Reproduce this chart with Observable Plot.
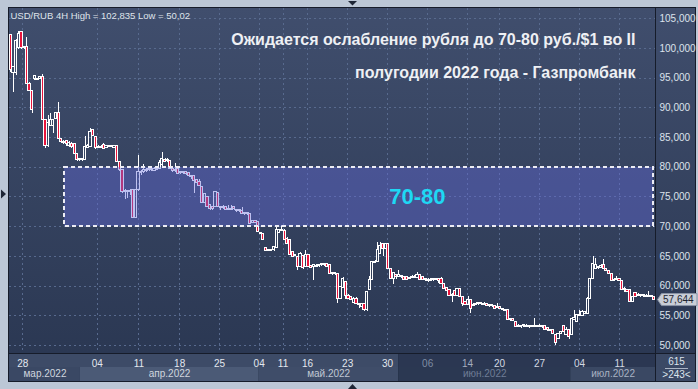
<!DOCTYPE html>
<html><head><meta charset="utf-8">
<script src="https://cdn.jsdelivr.net/npm/d3@7"></script>
<script src="https://cdn.jsdelivr.net/npm/@observablehq/plot@0.6"></script>
<style>
html,body{margin:0;padding:0;background:#bcc7d6;overflow:hidden;}
#chart svg{display:block;}
</style></head><body><div id="chart"></div>
<script>
// USD/RUB 4H candles: [open, high, low, close]
const candles = [
[102.2,102.4,96.0,96.3],[95.8,97.0,92.6,96.9],[95.8,101.5,95.5,101.3],[100.1,102.835,99.8,102.5],[102.7,102.8,99.9,100.0],
[100.1,100.4,99.9,100.2],[100.2,101.9,94.0,94.1],[94.1,94.3,92.7,92.9],[92.9,93.0,89.0,89.6],[94.8,95.4,94.6,95.3],
[94.9,95.0,94.6,94.7],[94.8,95.3,94.7,95.2],[95.2,95.7,87.8,87.9],[87.9,88.0,83.2,83.5],[83.5,88.7,83.4,87.4],
[87.0,89.0,86.8,87.9],[87.0,88.0,85.7,87.9],[88.2,89.3,88.0,89.1],[89.1,90.9,84.7,84.8],[84.8,84.9,84.0,84.3],
[84.3,84.5,83.8,84.2],[84.4,84.5,83.5,83.9],[83.6,84.3,83.4,84.1],[84.0,84.1,83.2,83.4],[83.9,84.0,82.2,82.3],
[82.3,82.4,81.0,81.2],[81.2,81.5,81.0,81.3],[81.3,81.4,81.0,81.2],[81.3,85.2,81.1,83.4],[83.3,83.8,83.1,83.6],
[83.4,86.5,83.3,85.9],[86.2,86.4,85.1,85.3],[85.1,85.2,83.0,83.2],[83.3,83.6,83.1,83.4],[83.4,83.6,83.1,83.3],
[83.8,84.0,83.0,83.1],[83.3,83.6,83.2,83.5],[83.5,83.6,83.3,83.4],[83.4,83.7,83.3,83.5],[83.3,83.7,83.2,83.5],
[83.5,83.6,80.8,80.9],[80.9,81.0,79.3,79.5],[79.5,79.6,75.6,75.8],[75.9,76.2,74.5,76.0],[76.0,76.1,74.8,75.8],
[75.8,76.2,75.3,76.0],[76.1,76.2,71.3,71.5],[71.5,76.3,71.3,76.1],[76.1,82.0,76.0,79.2],[79.0,79.4,78.7,79.2],
[79.2,80.4,79.0,79.6],[79.4,79.8,79.2,79.6],[79.5,79.9,79.3,79.7],[79.6,79.9,79.3,79.5],[79.4,80.0,79.3,79.7],
[79.6,80.2,79.4,79.7],[79.7,81.2,79.6,80.8],[80.4,82.5,80.2,81.4],[81.3,81.4,80.8,80.9],[81.0,81.4,80.8,81.2],
[81.0,81.2,79.6,79.7],[79.7,79.8,79.2,79.4],[79.4,80.6,79.2,79.6],[79.7,79.8,78.8,78.9],[79.0,79.3,78.8,79.1],
[79.1,79.3,78.8,79.0],[79.2,79.3,78.7,78.8],[79.0,79.1,78.4,78.5],[78.6,78.7,77.9,78.3],[78.5,78.6,75.6,77.7],
[77.8,77.9,77.2,77.4],[77.6,78.0,76.8,76.8],[76.6,76.7,74.0,74.0],[74.0,75.6,73.9,75.5],[75.0,75.1,73.2,73.3],
[73.6,73.7,72.8,73.0],[73.3,73.4,72.8,73.0],[73.3,75.9,73.2,75.8],[75.7,75.8,73.2,73.3],[73.2,73.4,72.7,73.1],
[73.1,73.5,72.9,73.2],[73.3,73.4,72.7,72.8],[72.9,73.5,72.7,73.0],[73.0,73.5,72.7,72.9],[73.3,73.4,72.8,72.9],
[72.7,72.9,72.4,72.6],[72.6,72.8,72.4,72.7],[72.6,73.3,72.0,72.1],[72.2,72.4,71.9,72.1],[72.1,72.4,71.9,72.2],
[72.2,72.3,70.4,70.5],[70.6,71.0,70.5,70.9],[70.9,71.0,70.5,70.7],[70.8,70.9,69.0,69.1],[68.9,69.0,68.6,68.8],
[68.7,68.8,67.6,67.7],[66.4,66.5,65.8,65.9],[66.0,66.1,65.8,66.0],[66.0,66.2,65.9,66.1],[66.0,66.6,65.9,66.5],
[66.4,69.8,66.3,69.4],[68.9,69.6,68.8,69.4],[69.3,70.2,69.2,69.5],[69.3,69.5,67.6,67.7],[68.0,68.1,67.0,67.1],
[67.8,67.9,65.1,65.2],[65.7,65.8,64.8,64.9],[65.3,65.4,64.9,65.0],[64.9,65.0,62.6,63.2],[63.2,65.6,63.1,65.4],
[65.0,65.2,62.8,63.0],[63.2,66.0,63.1,65.2],[65.2,65.3,63.1,63.2],[63.3,63.4,62.9,63.0],[63.2,63.7,60.9,63.5],
[63.4,63.7,63.1,63.3],[63.3,63.7,63.1,63.5],[63.5,63.8,63.3,63.6],[63.6,63.8,63.3,63.5],[63.7,63.8,63.1,63.2],
[63.5,63.6,61.9,62.0],[62.1,62.3,61.8,62.0],[62.0,62.3,61.8,62.1],[62.1,62.2,57.0,57.9],[57.9,60.0,57.7,59.8],
[59.7,61.4,59.6,61.2],[60.7,60.8,57.8,58.4],[58.4,58.5,57.8,57.9],[58.2,58.3,57.6,57.7],[57.1,58.0,57.0,57.9],
[57.9,58.0,56.9,57.0],[57.0,57.1,56.3,56.8],[56.5,57.0,56.4,56.9],[56.9,57.0,55.8,55.9],[55.9,59.1,55.8,59.0],
[59.3,61.6,59.2,61.0],[61.0,64.1,60.9,64.0],[63.9,64.3,63.8,64.1],[64.0,67.4,63.9,66.0],[65.4,67.4,65.3,66.8],
[67.0,67.1,64.9,66.3],[66.3,67.2,66.2,67.0],[67.0,67.1,62.8,62.9],[62.9,63.0,61.1,61.2],[61.2,62.3,60.3,62.2],
[61.9,62.0,61.1,61.6],[61.6,62.6,61.5,61.9],[61.6,61.7,61.3,61.5],[61.5,61.6,61.0,61.1],[61.5,61.6,61.0,61.1],
[61.3,61.5,61.1,61.3],[61.4,61.7,61.3,61.5],[61.5,61.7,61.2,61.4],[61.3,62.3,61.2,61.8],[61.8,61.9,61.0,61.1],
[61.5,61.6,61.0,61.1],[61.1,61.3,60.8,61.0],[61.0,61.2,60.6,60.8],[60.9,61.3,60.7,61.1],[61.1,61.3,60.8,61.0],
[61.0,61.3,60.9,61.1],[61.2,61.3,60.5,60.8],[61.2,61.4,60.2,60.3],[60.3,60.4,59.4,59.5],[59.6,59.7,59.1,59.2],
[59.4,59.5,58.3,58.4],[58.4,58.7,57.3,58.5],[59.1,59.2,58.3,58.4],[58.4,59.6,58.3,59.5],[59.5,59.6,58.0,58.1],
[58.1,58.2,56.5,57.0],[57.3,57.4,56.7,56.8],[56.8,58.2,56.7,57.6],[57.6,57.7,55.4,56.2],[56.6,57.0,56.5,56.8],
[56.8,57.2,56.7,57.0],[57.0,57.3,56.8,57.1],[57.1,57.2,56.7,56.9],[56.9,57.2,56.7,57.0],[56.9,57.0,56.5,56.7],
[56.7,56.8,56.4,56.6],[56.6,56.8,56.4,56.7],[56.6,56.7,56.1,56.2],[56.3,57.0,56.2,56.4],[56.4,56.5,56.0,56.2],
[56.2,56.3,55.9,56.0],[56.0,56.1,55.8,55.9],[55.9,56.0,54.2,54.3],[54.3,54.6,54.1,54.5],[54.5,54.6,54.0,54.2],
[53.9,54.0,53.0,53.1],[53.2,53.5,53.0,53.3],[53.3,53.4,52.9,53.2],[53.2,53.5,53.0,53.4],[53.3,53.5,53.0,53.2],
[53.2,53.4,52.9,53.3],[53.3,53.4,53.0,53.2],[53.2,54.5,53.0,53.3],[53.3,53.4,53.0,53.2],[53.2,53.5,53.0,53.3],
[53.3,53.4,52.9,53.1],[53.2,53.3,52.5,52.6],[53.0,53.1,52.4,52.6],[52.6,52.7,52.3,52.5],[52.6,52.7,51.9,52.0],
[51.7,51.8,50.02,50.4],[51.1,52.1,51.0,52.0],[52.0,52.4,51.9,52.3],[53.2,53.4,52.2,52.3],[51.7,53.0,51.6,52.6],
[52.6,52.7,51.0,51.5],[51.7,54.6,51.6,54.5],[54.3,55.9,54.2,54.6],[53.9,55.2,53.8,55.1],[55.0,55.9,54.9,55.2],
[54.9,55.9,54.8,55.6],[55.3,55.7,55.2,55.6],[55.3,58.0,55.2,57.9],[57.9,61.3,57.8,61.2],[61.2,65.0,61.1,63.8],
[62.9,64.7,62.8,63.5],[63.1,63.3,62.8,63.0],[63.0,63.6,62.9,63.3],[63.5,64.4,62.8,62.9],[62.9,63.0,62.5,62.6],
[62.6,62.7,61.9,62.0],[62.0,62.1,60.7,60.8],[61.0,61.2,60.7,60.9],[61.0,61.6,60.9,61.2],[61.2,61.3,60.7,60.8],
[60.8,60.9,59.3,59.4],[59.5,59.8,59.0,59.3],[59.4,59.5,58.9,59.0],[59.3,59.4,57.2,57.3],[57.3,58.3,57.2,58.2],
[58.8,58.9,58.1,58.2],[58.4,58.7,58.2,58.5],[58.4,58.6,58.1,58.3],[58.3,58.6,58.1,58.4],[58.3,58.5,58.0,58.2],
[58.2,59.1,58.1,58.3],[58.3,58.4,58.0,58.2],[58.1,58.2,57.5,57.644]
];
// day ticks (bar index where the day starts) and their labels
const dayTickIndex = [4.5, 32.5, 48.2, 63.5, 78.5, 93.4, 102.4, 111.6, 126.7, 141.7, 156.8, 171.8, 183.8, 198.9, 213.9, 229.0];
const dayTickLabels = ["28","04","11","18","25","04","11","16","23","30","06","14","20","27","04","11"];
// months: label and bar-index boundaries
const monthLabels = ["мар.2022","апр.2022","май.2022","июн.2022","июл.2022"];
const monthBounds = [-0.5, 26.2, 93.2, 145.9, 210.6, 242.5];
const yTicks = [50,55,60,65,70,75,80,85,90,95,100,105];
const bandValues = [70, 80];
const bandBars = [20.2, 241.6];
const bandLabel = "70-80";
const bandLabelBar = [152.9];
const lastPrice = 57.644;
const headerText = "USD/RUB 4H High = 102,835 Low = 50,02";
const titleLines = ["Ожидается ослабление рубля до 70-80 руб./$1 во II", "полугодии 2022 года - Газпромбанк"];
const barCountText = ["615", ">243<"];

// styles
const dayLabelFill = ["#e3e8ef","#e3e8ef","#e3e8ef","#e3e8ef","#e3e8ef","#e3e8ef","#e3e8ef","#e3e8ef","#e3e8ef","#e3e8ef","#7f8ca3","#a3adbe","#d3d9e2","#d3d9e2","#d3d9e2","#d3d9e2"];
const monthFill = ["#d0d6df","#d0d6df","#c0c8d4","#6f7d96","#a9b3c3"];
const monthBg = ["#3a4864","#4b5a76","#3f4d69","#2b3852","#3a4863"];

const N = candles.length;
const bars = candles.map(([o,h,l,c], i) => ({i, o, h, l, c, up: c >= o}));
const fmt3 = v => v.toFixed(3).replace(".", ",");
const dayTicks = dayTickIndex.map((v, k) => ({v, label: dayTickLabels[k], fill: dayLabelFill[k]}));
const months = monthLabels.map((m, k) => ({m, a: monthBounds[k], b: monthBounds[k + 1], fill: monthFill[k], bg: monthBg[k]}));
const FONT = "'Liberation Sans', Arial, sans-serif";

const chart = Plot.plot({
  width: 698, height: 389,
  marginLeft: 9, marginRight: 43, marginTop: 8, marginBottom: 36,
  style: {background: "transparent", fontFamily: FONT, overflow: "visible"},
  x: {domain: [-0.5, N - 0.5], axis: null},
  y: {domain: [48.65, 106.73], axis: null},
  color: {type: "identity"},
  marks: [
    Plot.ruleY(yTicks, {y: d => d, stroke: "#586a8e", strokeDasharray: "2,3", strokeWidth: 1}),
    Plot.ruleX(dayTickIndex, {x: d => d, stroke: "#586a8e", strokeDasharray: "2,3", strokeWidth: 1}),
    Plot.ruleX(bars, {x: "i", y1: "h", y2: d => Math.max(d.o, d.c), stroke: "#ffffff", strokeWidth: 1}),
    Plot.ruleX(bars, {x: "i", y1: "l", y2: d => Math.min(d.o, d.c), stroke: "#ffffff", strokeWidth: 1}),
    Plot.rect(bars, {x1: d => d.i - 0.42, x2: d => d.i + 0.42, y1: "o", y2: "c",
      fill: d => d.up ? "none" : "#e8143c", stroke: "#ffffff", strokeWidth: 1}),
    Plot.rect([bandValues], {x1: () => bandBars[0], x2: () => bandBars[1], y1: d => d[0], y2: d => d[1],
      fill: "#646cdb", fillOpacity: 0.42, stroke: "#ececf4", strokeWidth: 2, strokeDasharray: "4,3"}),
    Plot.text([bandLabel], {x: () => bandLabelBar[0], y: () => (bandValues[0] + bandValues[1]) / 2, text: d => d,
      fill: "#1ed8f4", fontSize: 22, fontWeight: "bold", lineAnchor: "middle"}),
    Plot.text([headerText], {frameAnchor: "top-left", dx: 1, dy: 4, lineAnchor: "top", textAnchor: "start",
      text: d => d, fill: "#dfe3ea", fontSize: 9.5}),
    Plot.text([titleLines[0]], {frameAnchor: "top-right", dx: -20, dy: 36, lineAnchor: "bottom", textAnchor: "end",
      text: d => d, fill: "#eef0f4", fontSize: 16, fontWeight: "bold"}),
    Plot.text([titleLines[1]], {frameAnchor: "top-right", dx: -20, dy: 69, lineAnchor: "bottom", textAnchor: "end",
      text: d => d, fill: "#eef0f4", fontSize: 16, fontWeight: "bold"}),
    Plot.text(yTicks, {y: d => d, frameAnchor: "right", dx: 4, textAnchor: "start", lineAnchor: "middle",
      text: fmt3, fill: "#dde3ec", fontSize: 10}),
    Plot.text(dayTicks, {x: "v", frameAnchor: "bottom", dy: 10, lineAnchor: "middle", text: "label", fill: "fill", fontSize: 10}),
    Plot.text(months, {x: d => (d.a + d.b) / 2, frameAnchor: "bottom", dy: 20, lineAnchor: "middle", text: "m", fill: "fill", fontSize: 10}),
    Plot.text([barCountText[0]], {frameAnchor: "bottom-right", dx: 21, dy: 8, lineAnchor: "middle", textAnchor: "middle", text: d => d, fill: "#dde3ec", fontSize: 10}),
    Plot.text([barCountText[1]], {frameAnchor: "bottom-right", dx: 21, dy: 21, lineAnchor: "middle", textAnchor: "middle", text: d => d, fill: "#dde3ec", fontSize: 10})
  ]
});

document.getElementById("chart").appendChild(chart);

const svg = d3.select(chart);
const xs = chart.scale("x"), ys = chart.scale("y");
const X = v => xs.apply(v);

// crisp candles
svg.selectAll('g[aria-label="rule"], g[aria-label="rect"]').attr("shape-rendering", "crispEdges");
// make flat candle bodies visible
const bodyGroup = svg.selectAll('g[aria-label="rect"]').nodes()[0];
d3.select(bodyGroup).selectAll("rect").each(function() {
  const r = d3.select(this);
  const h = +r.attr("height");
  if (h < 1) { r.attr("y", +r.attr("y") - (1 - h) / 2).attr("height", 1); }
});

// gradients
const defs = svg.insert("defs", ":first-child");
const g1 = defs.append("linearGradient").attr("id", "plotbg").attr("x1", 0).attr("y1", 0).attr("x2", 0).attr("y2", 1);
g1.append("stop").attr("offset", "0%").attr("stop-color", "#404e6d");
g1.append("stop").attr("offset", "100%").attr("stop-color", "#2b3853");

// background layer
const bg = svg.insert("g", "defs + *");
bg.append("rect").attr("x", 0).attr("y", 0).attr("width", 698).attr("height", 389).attr("fill", "#bcc7d6");
bg.append("rect").attr("x", 8).attr("y", 7).attr("width", 688).attr("height", 375).attr("fill", "#161c2a");
bg.append("rect").attr("x", 9).attr("y", 8).attr("width", 646).attr("height", 345).attr("fill", "url(#plotbg)");
bg.append("rect").attr("x", 656).attr("y", 8).attr("width", 39).attr("height", 345).attr("fill", "url(#plotbg)");
// row 1 of the time axis
bg.append("rect").attr("x", 9).attr("y", 354).attr("width", X(145.9) - 9).attr("height", 13).attr("fill", "#3d4b67");
bg.append("rect").attr("x", X(145.9)).attr("y", 354).attr("width", 655 - X(145.9)).attr("height", 13).attr("fill", "#2b3752");
// row 2: months
months.forEach(mo => {
  const a = Math.max(9, X(mo.a)), b = Math.min(655, X(mo.b));
  bg.append("rect").attr("x", a).attr("y", 367).attr("width", b - a).attr("height", 14).attr("fill", mo.bg);
});
bg.append("rect").attr("x", 656).attr("y", 354).attr("width", 39).attr("height", 27).attr("fill", "#3b4965");

// decorations on top
const fg = svg.append("g");
fg.append("line").attr("x1", 665).attr("x2", 688).attr("y1", 368.5).attr("y2", 368.5).attr("stroke", "#aab4c4");
// frame triangles
fg.append("path").attr("d", "M348,1 L357,1 L352.5,5.5 Z").attr("fill", "#1e2636");
fg.append("path").attr("d", "M348,389 L357,389 L352.5,384 Z").attr("fill", "#1e2636");
fg.append("path").attr("d", "M1,189.5 L1,198.5 L6,194 Z").attr("fill", "#1e2636");
// last price tag
const yp = ys.apply(lastPrice);
fg.append("path").attr("d", `M657.5,${yp} L661.5,${yp - 6} L697,${yp - 6} L697,${yp + 6} L661.5,${yp + 6} Z`)
  .attr("fill", "#c9ced7").attr("stroke", "#8a95a6").attr("stroke-width", 1);
fg.append("text").attr("x", 663).attr("y", yp).attr("dy", "0.35em").attr("text-anchor", "start")
  .attr("font-family", FONT).attr("font-size", 10).attr("fill", "#1e2530").text(fmt3(lastPrice));
</script>
</body></html>
